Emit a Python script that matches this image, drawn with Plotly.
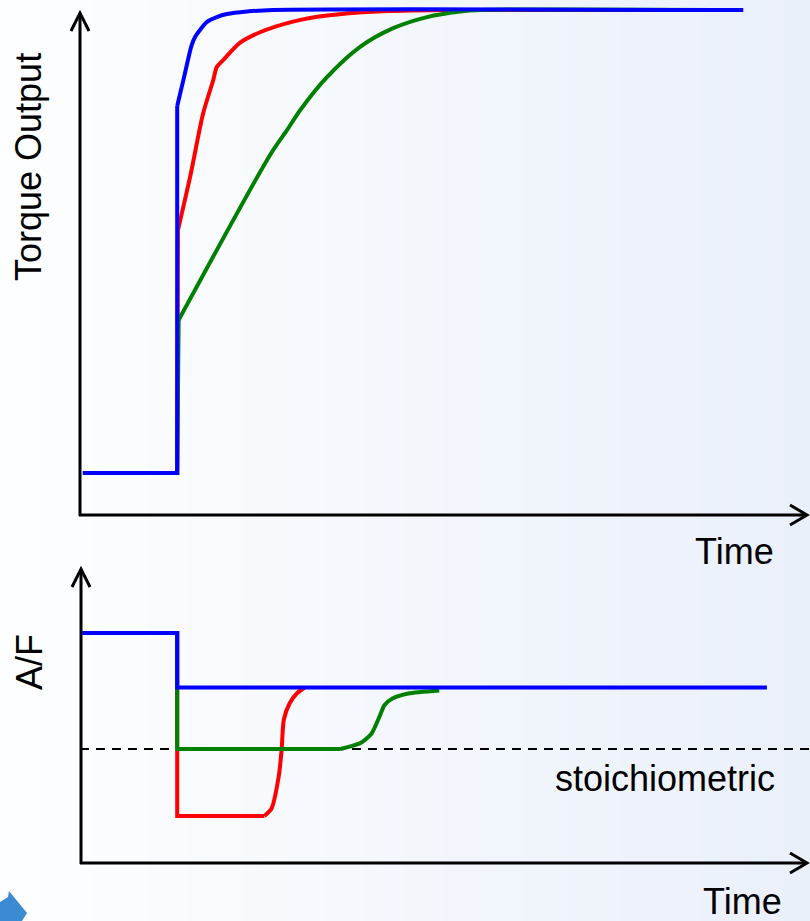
import plotly.graph_objects as go

W, H = 810, 921

# ---------------- data ----------------
# Torque output (normalised)
torque_blue_t = [0.04, 1.35, 1.35, 1.45, 1.55, 1.60, 1.68, 1.76, 1.90, 2.04, 2.32, 2.68, 9.21]
torque_blue_v = [0.083, 0.083, 0.81, 0.87, 0.93, 0.947, 0.963, 0.976, 0.986, 0.992, 0.997, 1.0, 1.0]

torque_red_t = [0.04, 1.35, 1.36, 1.53, 1.71, 1.85, 1.90, 1.99, 2.22, 2.50, 2.96, 3.43, 4.13, 5.04, 9.21]
torque_red_v = [0.083, 0.083, 0.564, 0.670, 0.795, 0.861, 0.887, 0.901, 0.935, 0.956, 0.977, 0.989, 0.997, 1.0, 1.0]

torque_green_t = [0.04, 1.35, 1.37, 2.64, 2.875, 3.06, 3.43, 3.89, 4.35, 4.82, 5.28, 5.56, 9.21]
torque_green_v = [0.083, 0.083, 0.386, 0.713, 0.762, 0.802, 0.867, 0.927, 0.964, 0.986, 0.997, 1.0, 1.0]

# Air / fuel ratio
stoich = 14.7
af_blue_t = [0.03, 1.35, 1.35, 9.54]
af_blue_v = [17.02, 17.02, 15.93, 15.93]

af_red_t = [0.03, 1.35, 1.35, 2.56, 2.66, 2.76, 2.80, 2.83, 2.91, 3.01, 3.12]
af_red_v = [17.02, 17.02, 13.36, 13.36, 13.51, 14.15, 14.68, 15.28, 15.61, 15.81, 15.93]

af_green_t = [0.03, 1.35, 1.35, 3.62, 3.91, 4.05, 4.16, 4.23, 4.34, 4.56, 4.99]
af_green_v = [17.02, 17.02, 14.70, 14.70, 14.83, 15.01, 15.35, 15.58, 15.71, 15.81, 15.87]

time_label = "Time"
torque_label = "Torque Output"
af_label = "A/F"
stoich_label = "stoichiometric"

# ---------------- helpers ----------------
def X(px):
    return px / W

def Y(py):
    return 1 - py / H

BLUE, RED, GREEN = "#0000ff", "#ff0000", "#008000"
LW = 4

fig = go.Figure()

def series(t, v, color, xa, ya, n_straight, smooth=0.8):
    # straight part (levels and step), then smooth recovery
    fig.add_trace(go.Scatter(x=t[:n_straight], y=v[:n_straight], mode="lines",
                             line=dict(color=color, width=LW),
                             xaxis=xa, yaxis=ya, hoverinfo="skip"))
    fig.add_trace(go.Scatter(x=t[n_straight - 1:], y=v[n_straight - 1:], mode="lines",
                             line=dict(color=color, width=LW, shape="spline", smoothing=smooth),
                             xaxis=xa, yaxis=ya, hoverinfo="skip"))

# top panel (red, green, blue on top)
series(torque_red_t, torque_red_v, RED, "x", "y", 3)
series(torque_green_t, torque_green_v, GREEN, "x", "y", 3)
series(torque_blue_t, torque_blue_v, BLUE, "x", "y", 3)

# bottom panel
xmax = (W - 80) / 72
fig.add_trace(go.Scatter(x=[0, xmax], y=[stoich, stoich], mode="lines",
                         line=dict(color="black", width=2, dash="9px,7px"),
                         xaxis="x2", yaxis="y2", hoverinfo="skip"))
series(af_red_t, af_red_v, RED, "x2", "y2", 4, 0.6)
series(af_green_t, af_green_v, GREEN, "x2", "y2", 4, 0.6)
series(af_blue_t, af_blue_v, BLUE, "x2", "y2", 4, 0.6)

hidden = dict(visible=False, showgrid=False, zeroline=False, fixedrange=True)
xrange = [0, xmax]
fig.update_layout(
    width=W, height=H,
    margin=dict(l=0, r=0, t=0, b=0),
    paper_bgcolor="white",
    plot_bgcolor="rgba(0,0,0,0)",
    showlegend=False,
    xaxis=dict(domain=[X(80), 1], range=xrange, anchor="y", **hidden),
    yaxis=dict(domain=[Y(515), Y(6)], range=[0, 509 / 505], anchor="x", **hidden),
    xaxis2=dict(domain=[X(80), 1], range=xrange, anchor="y2", **hidden),
    yaxis2=dict(domain=[Y(863), Y(568)], range=[stoich - 114 / 50, stoich + 181 / 50],
                anchor="x2", **hidden),
)

shapes = []
# background gradient (white -> light blue)
N = 60
c0 = (253, 254, 255)
c1 = (234, 240, 250)
for i in range(N):
    f = i / (N - 1)
    col = "rgb(%d,%d,%d)" % tuple(round(c0[k] + (c1[k] - c0[k]) * f) for k in range(3))
    shapes.append(dict(type="rect", xref="paper", yref="paper",
                       x0=i / N, x1=(i + 1) / N + 0.002, y0=0, y1=1,
                       fillcolor=col, line=dict(width=0), layer="below"))

ax = dict(color="black", width=3)

def line(x0, y0, x1, y1):
    shapes.append(dict(type="line", xref="paper", yref="paper",
                       x0=X(x0), y0=Y(y0), x1=X(x1), y1=Y(y1), line=ax, layer="below"))

def poly(pts):
    d = "M " + " L ".join("%f,%f" % (X(a), Y(b)) for a, b in pts)
    shapes.append(dict(type="path", xref="paper", yref="paper", path=d, line=ax, layer="below"))

# top axes
line(80, 516, 80, 13)
poly([(71, 31), (80, 13), (89, 31)])
line(79, 515, 806, 515)
poly([(790, 505), (807, 515), (790, 525)])
# bottom axes
line(81, 864, 81, 569)
poly([(72, 587), (81, 569), (90, 587)])
line(80, 863, 806, 863)
poly([(790, 853), (807, 863), (790, 873)])

# little blue arrow in the corner
shapes.append(dict(type="path", xref="paper", yref="paper",
                   path="M %f,%f L %f,%f L %f,%f L %f,%f L %f,%f L %f,%f Z" % (
                       X(0), Y(902), X(8), Y(897), X(9), Y(891), X(27), Y(913),
                       X(22), Y(921), X(0), Y(921)),
                   fillcolor="#3a8bd2", line=dict(width=0), layer="above"))

fig.update_layout(shapes=shapes)

font = dict(family="Liberation Sans, Arial, sans-serif", size=36, color="black")
ann = [
    dict(text=torque_label, x=X(29), y=Y(167), textangle=-90),
    dict(text=af_label, x=X(29), y=Y(662), textangle=-90),
    dict(text=time_label, x=X(734), y=Y(551)),
    dict(text=time_label, x=X(742), y=Y(901)),
    dict(text=stoich_label, x=X(665), y=Y(778)),
]
for a in ann:
    a.update(xref="paper", yref="paper", showarrow=False, xanchor="center",
             yanchor="middle", font=font)
fig.update_layout(annotations=ann)

fig.write_html(
    "out.html",
    config={"displayModeBar": False},
    post_script="document.body.style.margin='0';document.body.style.overflow='hidden';",
)
